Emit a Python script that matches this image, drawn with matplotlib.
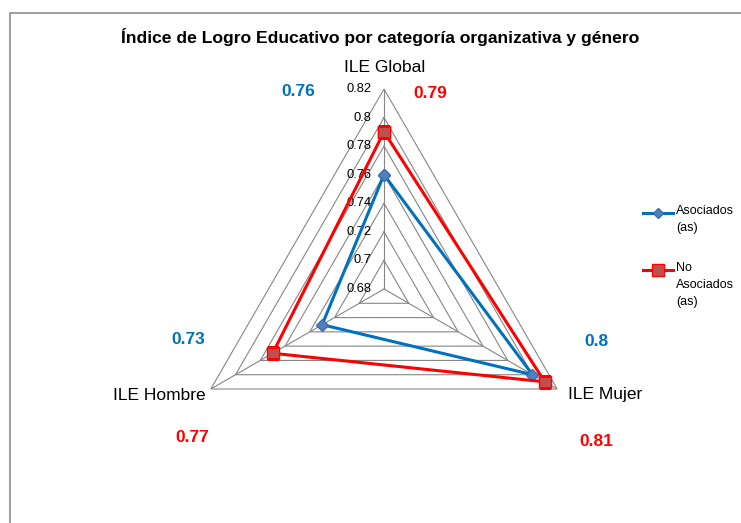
import numpy as np
import matplotlib.pyplot as plt
from matplotlib.patches import Rectangle
from matplotlib.lines import Line2D

plt.rcParams['font.family'] = ['Liberation Sans', 'DejaVu Sans']

# datos
categorias = ['ILE Global', 'ILE Mujer', 'ILE Hombre']
asociados = [0.76, 0.80, 0.73]
no_asociados = [0.79, 0.81, 0.77]
niveles = [0.68, 0.70, 0.72, 0.74, 0.76, 0.78, 0.80, 0.82]
etiquetas_niveles = ['0.68', '0.7', '0.72', '0.74', '0.76', '0.78', '0.8', '0.82']
series = ['Asociados\n(as)', 'No\nAsociados\n(as)']

W, H = 741, 523
fig = plt.figure(figsize=(W / 100, H / 100), dpi=100)

# marco del grafico (estilo Excel)
fig.patches.append(Rectangle((10 / W, -0.05), 1.2, 1.05 - 13 / H, transform=fig.transFigure,
                             fill=False, edgecolor='#8c8c8c', lw=1.2))

cx, cy, r = 384, 289, 200
ax = fig.add_axes([(cx - r) / W, (H - cy - r) / H, 2 * r / W, 2 * r / H], polar=True)
ax.set_theta_offset(np.pi / 2)
ax.set_theta_direction(-1)
ax.set_ylim(niveles[0], niveles[-1])
ax.grid(False)
ax.spines['polar'].set_visible(False)
ax.set_xticks([])
ax.set_yticks([])
ax.patch.set_visible(False)

ang = np.linspace(0, 2 * np.pi, len(categorias), endpoint=False)
ang_c = np.append(ang, ang[0])

# rejilla triangular
for v in niveles[1:]:
    ax.plot(ang_c, [v] * len(ang_c), color='#868686', lw=0.8, zorder=1)
for a in ang:
    ax.plot([a, a], [niveles[0], niveles[-1]], color='#868686', lw=0.8, zorder=1)

# etiquetas del eje radial
for v, t in zip(niveles, etiquetas_niveles):
    ax.annotate(t, (0, v), xytext=(-9, 0), textcoords='offset points',
                ha='right', va='center', fontsize=9.3, color='black', annotation_clip=False)

# series
estilo_as = dict(color='#0070C0', lw=2.2, marker='D', ms=6.5, mfc='#4F81BD', mec='#3a6fb5')
estilo_no = dict(color='#FF0000', lw=2.2, marker='s', ms=9, mfc='#C0504D', mec='#FF0000')
ax.plot(ang_c, np.append(asociados, asociados[0]), zorder=3, **estilo_as)
ax.plot(ang_c, np.append(no_asociados, no_asociados[0]), zorder=4, **estilo_no)

# etiquetas de categorias
fig.text(385 / W, 1 - 67 / H, categorias[0], ha='center', va='center', fontsize=12.5)
fig.text(568 / W, 1 - 395 / H, categorias[1], ha='left', va='center', fontsize=12.5)
fig.text(206 / W, 1 - 395 / H, categorias[2], ha='right', va='center', fontsize=12.5)

# etiquetas de datos
pos_as = [(298, 91), (596, 341), (188, 339)]
pos_no = [(430, 94), (596, 442), (192, 438)]
for v, (x, y) in zip(asociados, pos_as):
    fig.text(x / W, 1 - y / H, f'{v:g}', ha='center', va='center', fontsize=12.5,
             fontweight='bold', color='#0070C0')
for v, (x, y) in zip(no_asociados, pos_no):
    fig.text(x / W, 1 - y / H, f'{v:g}', ha='center', va='center', fontsize=12.5,
             fontweight='bold', color='#FF0000')

fig.text(380 / W, 1 - 37 / H, 'Índice de Logro Educativo por categoría organizativa y género',
         ha='center', va='center', fontsize=12.6, fontweight='bold')

# leyenda (marcador alineado con la primera linea, como en Excel)
for nombre, estilo, y in zip(series, [estilo_as, estilo_no], [213, 270]):
    fy = 1 - y / H
    fig.lines.append(Line2D([643 / W, 673 / W], [fy, fy], transform=fig.transFigure,
                            color=estilo['color'], lw=estilo['lw']))
    fig.lines.append(Line2D([658 / W], [fy], transform=fig.transFigure, marker=estilo['marker'],
                            ms=estilo['ms'] - 1, mfc=estilo['mfc'], mec=estilo['mec']))
    fig.text(676 / W, fy + 8 / H, nombre, ha='left', va='top', fontsize=9, linespacing=1.55)

fig.savefig('out.png', dpi=100)
